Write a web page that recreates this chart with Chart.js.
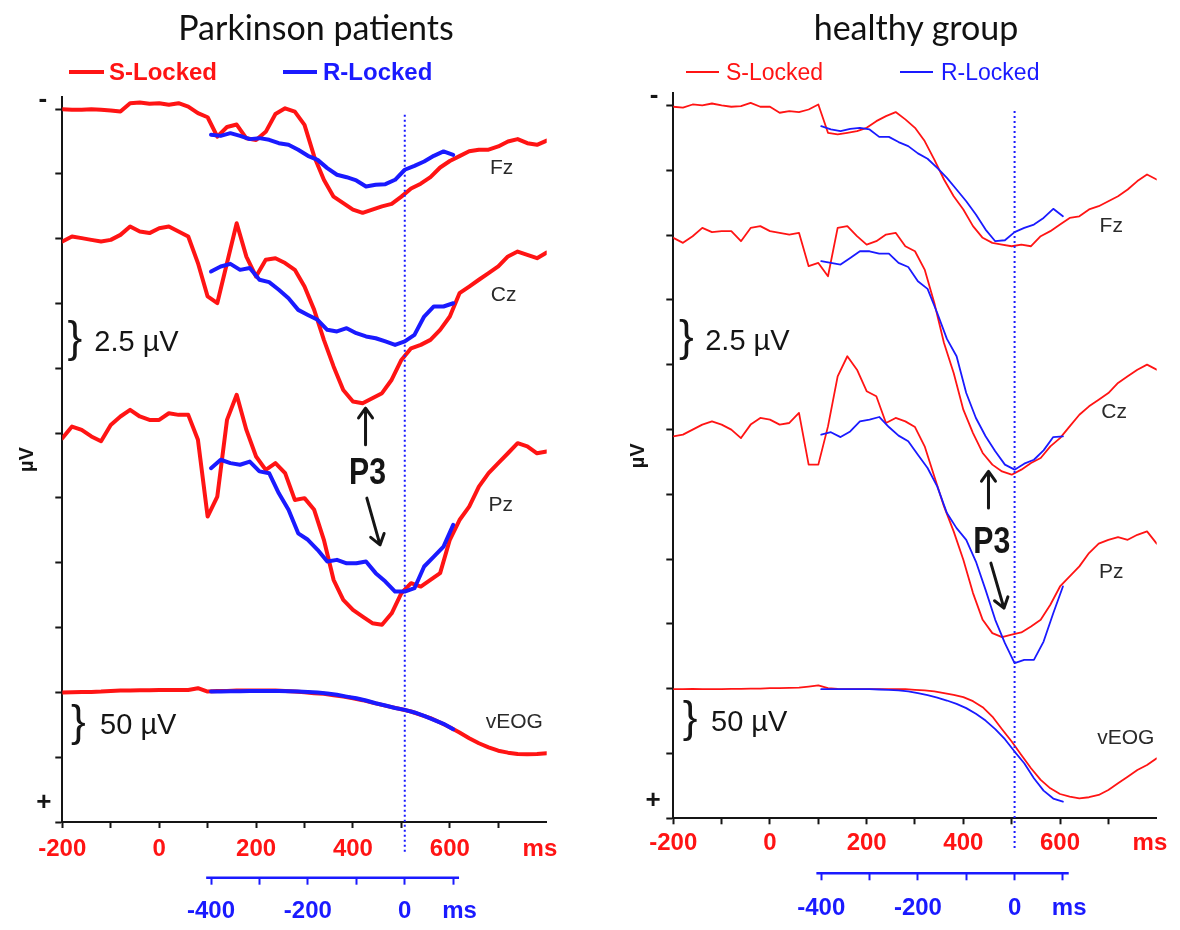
<!DOCTYPE html>
<html lang="en"><head><meta charset="utf-8"><title>P3 · stimulus- vs response-locked ERPs</title>
<script src="https://cdn.jsdelivr.net/npm/chart.js@4.4.1/dist/chart.umd.min.js"></script>
<style>
  * { box-sizing: border-box; }
  body { margin: 0; background: #fff; }
  #stage { position: relative; width: 1180px; height: 930px; overflow: hidden; background: #fff;
           font-family: "Liberation Sans", Arial, sans-serif; color: #151515; }
  canvas { position: absolute; top: 0; }
  .title { position: absolute; top: 10px; transform: translateX(-50%); white-space: nowrap;
           font: 34px/1 Lato, "Open Sans", sans-serif; color: #111; }
  .sw { position: absolute; display: block; }
  .kt { position: absolute; white-space: nowrap; line-height: 1; }
  .pd .kt { font-size: 24px; font-weight: bold; }
  .hc .kt { font-size: 23px; }
</style></head>
<body>
<div id="stage">
  <canvas id="pd" width="600" height="930" style="left:0"></canvas>
  <canvas id="hc" width="580" height="930" style="left:600px"></canvas>

  <div class="title" style="left:316px">Parkinson patients</div>
  <div class="title" style="left:916px">healthy group</div>

  <div class="pd">
    <i class="sw" style="left:69px;top:70px;width:35px;height:4px;background:#ff1414"></i>
    <span class="kt" style="left:109px;top:60px;color:#ff1414">S-Locked</span>
    <i class="sw" style="left:283px;top:70px;width:34px;height:4px;background:#1a1aff"></i>
    <span class="kt" style="left:323px;top:60px;color:#1a1aff">R-Locked</span>
  </div>
  <div class="hc">
    <i class="sw" style="left:686px;top:71px;width:33px;height:2px;background:#ff1414"></i>
    <span class="kt" style="left:726px;top:61px;color:#ff1414">S-Locked</span>
    <i class="sw" style="left:900px;top:71px;width:33px;height:2px;background:#1a1aff"></i>
    <span class="kt" style="left:941px;top:61px;color:#1a1aff">R-Locked</span>
  </div>
</div>

<script>
const RED = '#ff1414', BLUE = '#1a1aff', INK = '#151515', LABEL_INK = '#2a2a2a';
const SANS = '"Liberation Sans", Arial, sans-serif';

// Sample times: ms after stimulus (S-locked) and ms around the button press (R-locked).
const T_S = [-200, -180, -160, -140, -120, -100, -80, -60, -40, -20, 0, 20, 40, 60, 80, 100, 120, 140, 160, 180,
  200, 220, 240, 260, 280, 300, 320, 340, 360, 380, 400, 420, 440, 460, 480, 500, 520, 540, 560, 580,
  600, 620, 640, 660, 680, 700, 720, 740, 760, 780, 800];
const T_R = [-400, -380, -360, -340, -320, -300, -280, -260, -240, -220, -200, -180, -160, -140, -120, -100,
  -80, -60, -40, -20, 0, 20, 40, 60, 80, 100];

const X_TICKS = [-200, -100, 0, 100, 200, 300, 400, 500, 600, 700];
const R_TICKS = [-400, -300, -200, -100, 0, 100];
const Y_TICKS = [0, 4, 8, 12, 16, 20, 24, 28, 32, 36, 40, 44];

// Traces in µV, channels stacked down the page (4 µV per tick, negative up).
// Parkinson patients
const PD_FZ_S = [0.0, 0.04, 0.04, 0.0, 0.04, 0.08, 0.15, -0.37, -0.41, -0.33, -0.37, -0.27, -0.37, -0.16, 0.25,
  0.5, 1.7, 1.1, 0.95, 1.8, 1.9, 1.4, 0.3, -0.05, 0.15, 0.97, 2.92, 4.36, 5.4, 5.8, 6.2, 6.4, 6.2, 6.0, 5.85,
  5.4, 4.9, 4.6, 4.2, 3.6, 3.2, 2.9, 2.6, 2.5, 2.5, 2.3, 2.0, 1.85, 2.1, 2.2, 1.94];
const PD_CZ_S = [8.17, 7.86, 7.96, 8.07, 8.17, 8.07, 7.76, 7.24, 7.55, 7.65, 7.35, 7.24, 7.55, 7.86, 9.5,
  11.56, 11.97, 9.5, 7.04, 9.1, 10.33, 9.3, 9.2, 9.5, 9.92, 10.95, 12.39, 14.24, 15.88, 17.33, 18.04, 18.15,
  17.84, 17.53, 16.7, 15.48, 14.76, 14.55, 14.24, 13.62, 12.8, 11.36, 10.95, 10.53, 10.12, 9.71, 9.09, 8.79,
  8.99, 9.2, 8.85];
const PD_PZ_S = [20.31, 19.59, 19.8, 20.2, 20.5, 19.49, 18.97, 18.56, 18.97, 19.18, 19.18, 18.77, 18.87, 18.87,
  20.41, 25.15, 23.91, 19.18, 17.63, 19.8, 21.44, 22.27, 21.85, 22.47, 24.12, 24.01, 24.73, 26.58, 29.05,
  30.29, 30.91, 31.32, 31.73, 31.83, 31.12, 29.88, 29.26, 29.47, 29.05, 28.64, 26.58, 25.36, 24.53, 23.3,
  22.47, 21.85, 21.24, 20.62, 20.82, 21.24, 21.13];
const PD_EOG_S = [36.01, 35.99, 35.97, 35.97, 35.95, 35.91, 35.89, 35.89, 35.87, 35.87, 35.85, 35.85, 35.85,
  35.85, 35.74, 35.95, 35.91, 35.91, 35.89, 35.89, 35.89, 35.89, 35.89, 35.91, 35.95, 35.99, 36.05, 36.09,
  36.17, 36.26, 36.36, 36.48, 36.63, 36.77, 36.91, 37.04, 37.18, 37.39, 37.59, 37.86, 38.15, 38.48, 38.83,
  39.14, 39.39, 39.6, 39.72, 39.8, 39.82, 39.8, 39.76];
const PD_FZ_R = [1.58, 1.65, 1.48, 1.65, 1.85, 1.79, 1.89, 2.1, 2.2, 2.51, 2.88, 3.13, 3.64, 4.05, 4.2, 4.4,
  4.77, 4.67, 4.63, 4.36, 3.74, 3.5, 3.23, 2.88, 2.61, 2.82];
const PD_CZ_R = [10.02, 9.71, 9.55, 9.92, 9.81, 10.53, 10.68, 11.15, 11.67, 12.39, 12.7, 13.0, 13.62, 13.72,
  13.52, 13.83, 14.03, 14.14, 14.34, 14.55, 14.34, 13.93, 12.8, 12.18, 12.18, 11.98];
const PD_PZ_R = [22.16, 21.64, 21.85, 21.95, 21.75, 22.36, 22.47, 23.71, 24.73, 26.18, 26.58, 27.2, 27.92,
  27.82, 28.03, 28.03, 27.92, 28.64, 29.16, 29.78, 29.78, 29.57, 28.23, 27.62, 27.0, 25.65];
const PD_EOG_R = [35.95, 35.95, 35.93, 35.93, 35.91, 35.91, 35.91, 35.91, 35.93, 35.95, 35.97, 36.01, 36.07,
  36.15, 36.26, 36.36, 36.5, 36.67, 36.81, 36.96, 37.08, 37.24, 37.45, 37.7, 37.94, 38.27];

// Healthy group
const HC_FZ_S = [0.08, 0.14, -0.06, 0, -0.12, 0, 0.08, 0.04, -0.16, 0.08, 0.08, 0.45, 0.35, 0.41, 0.25, -0.06,
  1.69, 1.79, 1.69, 1.59, 1.38, 0.97, 0.66, 0.41, 0.86, 1.38, 2.2, 3.34, 4.57, 5.6, 6.42, 7.45, 8.17, 8.48,
  8.59, 8.69, 8.59, 8.69, 8.07, 7.76, 7.35, 6.94, 6.84, 6.42, 6.22, 5.91, 5.6, 5.19, 4.67, 4.26, 4.57];
const HC_CZ_S = [8.17, 8.48, 8.07, 7.56, 7.82, 7.76, 7.76, 8.38, 7.56, 7.45, 7.76, 7.86, 7.97, 7.86, 9.92,
  9.72, 10.54, 7.56, 7.45, 8.07, 8.59, 8.38, 7.97, 7.86, 8.69, 9.0, 10.13, 12.19, 14.66, 16.51, 18.78, 20.22,
  21.45, 22.17, 22.59, 22.79, 22.48, 22.07, 21.76, 21.04, 20.53, 19.81, 19.09, 18.57, 18.16, 17.75, 17.13,
  16.72, 16.31, 16.0, 16.31];
const HC_PZ_S = [20.42, 20.32, 20.01, 19.7, 19.5, 19.7, 20.01, 20.53, 19.7, 19.29, 19.39, 19.7, 19.6, 18.98,
  22.17, 22.17, 19.81, 16.72, 15.48, 16.31, 17.64, 17.95, 19.6, 19.29, 19.5, 19.85, 21.04, 22.9, 24.75, 26.29,
  28.04, 30.1, 31.75, 32.57, 32.82, 32.67, 32.53, 32.16, 31.75, 30.82, 29.69, 29.07, 28.45, 27.63, 27.05,
  26.81, 26.64, 26.81, 26.5, 26.29, 27.05];
const HC_EOG_S = [36.03, 36.03, 36.01, 36.03, 36.03, 36.03, 36.01, 36.01, 35.99, 35.99, 35.97, 35.97, 35.95,
  35.93, 35.87, 35.8, 35.97, 36.01, 36.03, 36.03, 36.03, 36.03, 36.03, 36.03, 36.03, 36.07, 36.11, 36.17,
  36.28, 36.38, 36.52, 36.77, 37.14, 37.72, 38.5, 39.26, 40.09, 40.91, 41.63, 42.15, 42.5, 42.66, 42.77,
  42.7, 42.56, 42.25, 41.84, 41.43, 41.02, 40.71, 40.3];
const HC_FZ_R = [1.28, 1.48, 1.59, 1.44, 1.38, 1.48, 1.94, 1.94, 2.26, 2.51, 2.96, 3.29, 3.85, 4.47, 5.19, 5.91,
  6.73, 7.66, 8.38, 8.32, 7.82, 7.56, 7.35, 6.94, 6.38, 6.84];
const HC_CZ_R = [9.61, 9.72, 9.82, 9.41, 9.0, 9.0, 9.14, 9.14, 9.72, 9.97, 10.85, 11.32, 12.81, 14.41, 15.48,
  17.75, 19.29, 20.42, 21.35, 22.17, 22.48, 22.11, 21.87, 21.29, 20.47, 20.42];
const HC_PZ_R = [20.32, 20.17, 20.47, 20.12, 19.5, 19.39, 19.23, 19.85, 20.38, 20.73, 21.56, 22.38, 23.51,
  25.16, 26.09, 26.81, 28.15, 29.9, 31.75, 33.19, 34.42, 34.22, 34.22, 33.09, 31.34, 29.69];
const HC_EOG_R = [36.03, 36.03, 36.03, 36.03, 36.03, 36.03, 36.05, 36.07, 36.11, 36.17, 36.28, 36.4, 36.55,
  36.73, 36.94, 37.2, 37.55, 37.97, 38.5, 39.12, 39.88, 40.6, 41.53, 42.29, 42.78, 42.97];

// Where the unit labels sit on each axis, and how far the onset marker runs.
const MS_S = 786, MS_R = 113;
const R_SPAN = [-410, 112];
const ONSET_SPAN = [0.35, 46.0];

const PANELS = [
  {
    id: 'pd', r0: 507, lw: 4,
    pad: { top: 97, right: 53.3 }, yW: 62.3, xH: 55.7, rH: 52.3, xPad: 7, rPad: 12, muPad: 15.3,
    s: [PD_FZ_S, PD_CZ_S, PD_PZ_S, PD_EOG_S], r: [PD_FZ_R, PD_CZ_R, PD_PZ_R, PD_EOG_R],
    notes: {
      channels: [['Fz', 707, 3.62], ['Cz', 711, 11.46], ['Pz', 705, 24.42], ['vEOG', 733, 37.82]],
      bars: [['2.5 µV', -174, -134, 14.42], ['50 µV', -167, -122, 38.1]],
      signs: [['-', -240, -0.57], ['+', -238, 42.8]],
      p3: [430, 22.5],
      arrows: [[426, 20.72, 426, 18.46], [428.7, 24.01, 456, 26.89]],
    },
  },
  {
    id: 'hc', r0: 506, lw: 1.8,
    pad: { top: 93.3, right: 23.3 }, yW: 73.3, xH: 55, rH: 56.7, xPad: 4.6, rPad: 13.8, muPad: 26,
    s: [HC_FZ_S, HC_CZ_S, HC_PZ_S, HC_EOG_S], r: [HC_FZ_R, HC_CZ_R, HC_PZ_R, HC_EOG_R],
    notes: {
      channels: [['Fz', 706, 7.47], ['Cz', 712, 18.96], ['Pz', 706, 28.78], ['vEOG', 736, 39.04]],
      bars: [['2.5 µV', -173, -134, 14.6], ['50 µV', -165, -122, 38.1]],
      signs: [['-', -240, -0.62], ['+', -242, 42.93]],
      p3: [459, 27.0],
      arrows: [[452, 24.85, 452, 22.59], [457, 28.25, 484, 31.03]],
    },
  },
];

const pts = (t, v) => t.map((x, i) => ({ x, y: v[i] }));

function trace(t, v, color, lw, axis) {
  return {
    data: pts(t, v), xAxisID: axis, yAxisID: 'y',
    borderColor: color, borderWidth: lw, pointRadius: 0, tension: 0, fill: false,
    borderJoinStyle: 'round', borderCapStyle: 'round',
    order: axis === 'xr' ? 1 : 2,   // response-locked drawn over stimulus-locked
  };
}

function arrow(ctx, x1, y1, x2, y2) {
  const a = Math.atan2(y2 - y1, x2 - x1), h = 12, w = 0.62;
  ctx.beginPath();
  ctx.moveTo(x1, y1); ctx.lineTo(x2, y2);
  ctx.moveTo(x2 - h * Math.cos(a - w), y2 - h * Math.sin(a - w));
  ctx.lineTo(x2, y2);
  ctx.lineTo(x2 - h * Math.cos(a + w), y2 - h * Math.sin(a + w));
  ctx.stroke();
}

function notes(n) {
  return {
    id: 'erpNotes',
    afterDraw(chart) {
      const { ctx } = chart;
      const { x, xr, y } = chart.scales;
      const X = t => x.getPixelForValue(t), Y = v => y.getPixelForValue(v);
      ctx.save();

      // response onset (R-locked 0), dotted, running down past the S axis
      const r0 = xr.getPixelForValue(0);
      ctx.strokeStyle = BLUE; ctx.lineWidth = 2; ctx.setLineDash([2, 3]);
      ctx.beginPath(); ctx.moveTo(r0, Y(ONSET_SPAN[0])); ctx.lineTo(r0, Y(ONSET_SPAN[1])); ctx.stroke();
      ctx.setLineDash([]);

      // R-locked axis line, only over the stretch it covers
      ctx.lineWidth = 2.5;
      ctx.beginPath();
      ctx.moveTo(xr.getPixelForValue(R_SPAN[0]), xr.top);
      ctx.lineTo(xr.getPixelForValue(R_SPAN[1]), xr.top);
      ctx.stroke();

      ctx.textBaseline = 'middle';
      ctx.fillStyle = LABEL_INK; ctx.textAlign = 'center'; ctx.font = `21px ${SANS}`;
      for (const [txt, t, v] of n.channels) ctx.fillText(txt, X(t), Y(v));

      ctx.fillStyle = INK;
      for (const [txt, tb, tt, v] of n.bars) {
        ctx.textAlign = 'center'; ctx.font = `44px ${SANS}`;
        ctx.fillText('}', X(tb), Y(v) - 3);
        ctx.textAlign = 'left'; ctx.font = `29px ${SANS}`;
        ctx.fillText(txt, X(tt), Y(v));
      }

      ctx.textAlign = 'center'; ctx.font = `bold 26px ${SANS}`;
      for (const [txt, t, v] of n.signs) ctx.fillText(txt, X(t), Y(v));

      // P3 is set in a condensed face in the original; squeeze the bold sans to match
      ctx.save();
      ctx.translate(X(n.p3[0]), Y(n.p3[1]));
      ctx.scale(0.84, 1);
      ctx.font = `bold 36px ${SANS}`;
      ctx.fillText('P3', 0, 0);
      ctx.restore();

      ctx.strokeStyle = INK; ctx.lineWidth = 3; ctx.lineCap = 'round'; ctx.lineJoin = 'round';
      for (const [t1, v1, t2, v2] of n.arrows) arrow(ctx, X(t1), Y(v1), X(t2), Y(v2));

      ctx.restore();
    },
  };
}

function build(p) {
  const font = { family: SANS, size: 24, weight: 'bold' };
  const hideAt = (at, color) => c => (c.tick && c.tick.value === at ? 'rgba(0,0,0,0)' : color);
  const datasets = [
    ...p.s.map(v => trace(T_S, v, RED, p.lw, 'x')),
    ...p.r.map(v => trace(T_R, v, BLUE, p.lw, 'xr')),
  ];

  new Chart(document.getElementById(p.id), {
    type: 'line',
    data: { datasets },
    options: {
      responsive: false, animation: false, devicePixelRatio: 1,
      layout: { padding: { left: 0, top: p.pad.top, right: p.pad.right, bottom: 0 } },
      plugins: { legend: { display: false }, tooltip: { enabled: false } },
      scales: {
        x: {
          type: 'linear', position: 'bottom', weight: 0, min: -200, max: 800,
          afterBuildTicks: s => { s.ticks = [...X_TICKS, MS_S].map(value => ({ value })); },
          afterFit: s => { s.height = p.xH; },
          ticks: {
            autoSkip: false, maxRotation: 0, minRotation: 0, color: RED, font, padding: p.xPad,
            callback: v => (v === MS_S ? 'ms' : v % 200 === 0 ? String(v) : ''),
          },
          grid: { drawOnChartArea: false, tickLength: 6, tickWidth: 2, tickColor: hideAt(MS_S, INK) },
          border: { display: true, color: INK, width: 2 },
        },
        xr: {
          type: 'linear', position: 'bottom', weight: 1, min: -200 - p.r0, max: 800 - p.r0,
          afterBuildTicks: s => { s.ticks = [...R_TICKS, MS_R].map(value => ({ value })); },
          afterFit: s => { s.height = p.rH; },
          ticks: {
            autoSkip: false, maxRotation: 0, minRotation: 0, color: BLUE, font, padding: p.rPad,
            callback: v => (v === MS_R ? 'ms' : v % 200 === 0 ? String(v) : ''),
          },
          grid: { drawOnChartArea: false, tickLength: 7, tickWidth: 2, tickColor: hideAt(MS_R, BLUE) },
          border: { display: false },
        },
        y: {
          type: 'linear', position: 'left', min: -0.75, max: 44, reverse: true,
          afterBuildTicks: s => { s.ticks = Y_TICKS.map(value => ({ value })); },
          afterFit: s => { s.width = p.yW; },
          ticks: { display: false },
          title: {
            display: true, text: 'µV', color: INK,
            font: { family: SANS, size: 20, weight: 'bold' }, padding: { top: p.muPad, bottom: 0 },
          },
          grid: { drawOnChartArea: false, tickLength: 7, tickWidth: 2, tickColor: INK },
          border: { display: true, color: INK, width: 2 },
        },
      },
    },
    plugins: [notes(p.notes)],
  });
}

PANELS.forEach(build);
</script>
</body></html>
